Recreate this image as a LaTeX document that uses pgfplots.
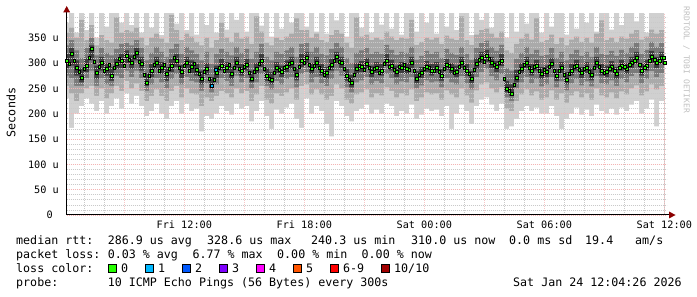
\documentclass[border=0pt]{standalone}
\usepackage{pgfplots}
\pgfplotsset{compat=1.18}
\usepackage{pgfplotstable}
\usepackage{fontspec}
\setmainfont{DejaVu Sans Mono}
\setmonofont{DejaVu Sans Mono}
\definecolor{smokeA}{HTML}{D0D0D0}
\definecolor{smokeB}{HTML}{AAAAAA}
\definecolor{smokeC}{HTML}{7A7A7A}
\definecolor{smokeD}{HTML}{3E3E3E}
\definecolor{mgrid}{HTML}{F4B4B4}
\definecolor{mxgrid}{HTML}{F7C6C6}
\definecolor{mingrid}{HTML}{CACACA}
\definecolor{arrowred}{HTML}{8B0000}
\definecolor{wm}{HTML}{C0C0C0}
\definecolor{lossA}{HTML}{26FF00}
\definecolor{lossB}{HTML}{00B8FF}
\definecolor{lossC}{HTML}{0059FF}
\definecolor{lossD}{HTML}{7E00FF}
\definecolor{lossE}{HTML}{FF00FF}
\definecolor{lossF}{HTML}{FF5500}
\definecolor{lossG}{HTML}{FF0000}
\definecolor{lossH}{HTML}{A10000}
\newcommand\legfont{\fontsize{11.7}{14}\selectfont}
\pgfplotstableread{
x l1 l2 l3 l4 m h4 h3 h2 h1 m2
6.12 230 255 275 290 305 318 335 360 380 298
6.37 172 240 270 295 318 330 345 370 400 305
6.62 200 225 255 275 290 305 325 350 360 283
6.87 215 240 255 262 272 290 310 385 400 288
7.12 230 250 270 282 295 310 330 345 365 310
7.37 220 255 285 305 328 335 350 375 400 302
7.62 205 235 255 268 280 295 315 335 350 292
7.87 225 250 270 285 300 312 330 355 400 285
8.12 200 230 258 275 288 300 320 345 372 296
8.37 215 240 255 265 275 292 315 340 400 290
8.62 230 255 275 288 298 310 328 390 400 308
8.87 210 245 270 290 305 318 338 360 380 295
9.12 240 265 285 300 315 325 340 365 400 306
9.37 220 250 272 288 300 315 335 362 375 312
9.62 235 260 285 305 320 330 345 370 400 303
9.87 215 245 270 285 298 312 330 350 360 276
10.12 195 225 245 255 262 280 305 335 400 275
10.37 205 235 258 272 285 298 320 350 370 296
10.62 220 248 270 288 300 312 332 358 400 284
10.87 200 235 262 278 290 302 322 348 355 296
11.12 190 225 250 265 278 292 312 340 400 288
11.37 215 245 268 282 295 308 328 395 400 310
11.62 225 255 278 292 305 318 338 365 378 290
11.87 200 232 258 270 282 296 318 345 400 294
12.12 220 250 272 288 300 312 332 358 365 285
12.37 205 240 265 280 292 305 325 352 400 298
12.62 210 238 262 275 286 298 318 342 356 278
12.87 165 215 245 258 270 285 305 335 400 282
13.12 195 232 260 276 288 300 322 350 375 270
13.37 190 225 242 250 255 272 298 330 400 268
13.62 200 235 258 270 280 295 318 345 360 290
13.87 215 245 270 285 295 308 328 380 400 284
14.12 205 240 265 280 290 302 322 350 366 296
14.37 198 232 255 268 278 292 315 342 400 290
14.62 220 250 275 290 300 312 332 360 385 288
14.87 210 240 262 275 285 298 320 348 400 292
15.12 215 245 270 285 296 308 328 352 362 280
15.37 185 225 250 262 270 285 308 338 400 282
15.62 205 238 262 278 288 300 322 392 400 298
15.87 225 255 278 292 305 318 338 362 374 288
16.12 195 228 255 265 275 290 312 340 400 270
16.37 170 220 248 258 268 282 305 335 352 280
16.62 208 240 265 280 290 302 322 350 400 286
16.87 200 235 258 272 282 295 318 345 368 290
17.12 212 242 268 282 292 305 325 352 400 298
17.37 220 250 272 288 300 312 332 358 380 288
17.62 190 228 252 266 276 290 312 388 400 292
17.87 172 255 278 292 305 318 338 365 400 300
18.12 230 258 282 298 310 322 340 365 372 296
18.37 200 238 262 278 288 300 322 350 400 294
18.62 215 248 272 288 300 312 332 358 362 290
18.87 205 238 260 275 285 298 318 345 400 276
19.12 180 228 255 268 280 292 315 342 358 290
19.37 155 235 268 285 296 308 328 355 400 305
19.62 225 258 285 300 312 322 340 365 384 302
19.87 215 250 275 290 300 312 332 358 400 288
20.12 195 228 252 265 275 288 310 340 352 268
20.37 185 220 242 252 262 276 300 330 400 276
20.62 205 238 262 278 288 300 320 390 400 294
20.87 210 242 266 282 292 304 325 352 370 286
21.12 218 248 272 288 298 310 330 356 400 290
21.37 200 232 258 272 282 295 318 345 360 288
21.62 208 240 265 280 290 302 322 350 400 280
21.87 200 236 260 275 285 298 318 346 376 298
22.12 220 252 278 294 305 318 336 362 400 292
22.37 215 245 270 285 295 306 326 352 368 286
22.62 195 232 258 272 282 295 316 345 400 292
22.87 205 240 264 280 290 302 322 350 356 296
23.12 200 236 262 278 288 300 320 348 400 286
23.37 218 248 272 290 300 312 332 385 400 285
23.62 190 225 250 260 270 284 306 336 362 276
23.87 198 232 256 270 280 292 314 342 400 288
24.12 210 242 266 282 292 304 324 350 380 290
24.37 205 238 262 275 285 298 318 346 400 284
24.62 208 240 264 280 290 302 322 350 358 282
24.87 195 228 252 265 275 288 310 338 400 288
25.12 215 246 270 286 296 308 328 354 372 294
25.37 170 238 262 278 288 300 320 348 400 280
25.62 200 232 258 272 282 295 316 345 365 292
25.87 218 250 274 290 300 312 332 392 400 290
26.12 205 236 260 275 285 298 318 345 400 278
26.37 180 222 248 260 270 284 306 336 355 286
26.62 215 246 272 288 298 310 330 356 400 306
26.87 228 258 282 298 310 322 340 365 385 302
27.12 232 262 288 302 315 326 344 368 400 308
27.37 218 250 274 290 300 312 332 358 370 296
27.62 205 242 266 282 292 304 324 350 400 300
27.87 220 252 278 294 305 318 336 362 400 270
28.12 170 210 232 242 250 265 290 325 350 246
28.37 175 205 225 235 240 258 285 320 400 258
28.62 190 225 250 262 272 286 308 338 362 282
28.87 205 238 262 278 288 300 320 348 400 296
29.12 215 248 272 290 300 312 332 358 378 290
29.37 205 236 260 275 285 298 318 346 400 292
29.62 212 244 268 285 295 306 326 388 400 284
29.87 200 228 254 268 278 292 314 342 360 286
30.12 200 232 258 272 282 295 316 345 400 292
30.37 215 246 272 288 298 310 330 356 372 284
30.62 195 228 252 265 275 288 310 338 400 284
30.87 170 240 264 280 290 302 322 350 400 276
31.12 190 222 246 258 268 282 305 335 356 278
31.37 200 236 260 275 285 298 318 346 400 292
31.62 212 244 268 285 295 306 326 352 368 286
31.87 198 232 256 270 280 292 314 342 400 288
32.12 208 240 264 280 290 302 322 350 380 282
32.37 195 228 254 266 276 290 312 340 400 290
32.62 218 250 274 290 300 312 332 358 362 292
32.87 205 236 260 275 285 298 318 384 400 280
33.12 200 232 258 272 282 295 316 345 400 288
33.37 210 242 266 282 292 304 324 350 366 284
33.62 198 230 255 268 278 292 314 342 400 290
33.87 212 244 268 285 295 306 326 352 375 292
34.12 205 238 262 278 288 300 320 348 400 296
34.37 218 250 274 290 300 312 332 358 400 305
34.62 225 256 280 298 310 322 340 365 382 296
34.87 200 236 260 275 285 298 318 346 400 290
35.12 210 244 268 285 295 306 326 352 360 304
35.37 228 258 284 300 312 324 342 366 400 306
35.62 175 248 272 290 300 312 332 358 400 304
35.87 225 255 280 298 310 322 340 365 400 300
35.99 225 255 280 298 310 322 340 365 400 nan
}\smoke
\begin{document}
\begin{tikzpicture}
\begin{axis}[
  at={(66.7bp,82bp)}, anchor=south west,
  scale only axis, width=600bp, height=201bp,
  xmin=6.12, xmax=36.12, ymin=0, ymax=396.8,
  axis x line*=bottom, axis y line*=left,
  axis line style={black, line width=1bp},
  axis on top,
  xtick={9,12,15,18,21,24,27,30,33,36},
  xticklabels={,Fri 12:00,,Fri 18:00,,Sat 00:00,,Sat 06:00,,Sat 12:00},
  minor xtick={7,8,10,11,13,14,16,17,19,20,22,23,25,26,28,29,31,32,34,35},
  ytick={0,50,100,150,200,250,300,350},
  yticklabels={0~~,50~u,100~u,150~u,200~u,250~u,300~u,350~u},
  minor ytick={10,20,30,40,60,70,80,90,110,120,130,140,160,170,180,190,210,220,230,240,260,270,280,290,310,320,330,340,360,370,380,390},
  grid=both,
  major grid style={mgrid, line width=0.7bp, dash pattern=on 1bp off 1bp},
  major x grid style={mxgrid, line width=0.7bp, dash pattern=on 1bp off 1bp},
  minor grid style={mingrid, line width=0.7bp, dash pattern=on 1bp off 1bp},
  major tick length=0pt, minor tick length=0pt,
  tick label style={font=\fontsize{10.24}{12}\selectfont},
  xticklabel style={anchor=north, inner sep=0pt, yshift=-5.5bp},
  yticklabel style={anchor=east, inner sep=0pt, xshift=-7.7bp},
]
\addplot[fill=smokeA, draw=none, const plot mark mid] table[x=x,y=h1]{\smoke} \closedcycle;
\addplot[fill=smokeB, draw=none, const plot mark mid] table[x=x,y=h2]{\smoke} \closedcycle;
\addplot[fill=smokeC, draw=none, const plot mark mid] table[x=x,y=h3]{\smoke} \closedcycle;
\addplot[fill=smokeD, draw=none, const plot mark mid] table[x=x,y=h4]{\smoke} \closedcycle;
\addplot[fill=smokeC, draw=none, const plot mark mid] table[x=x,y=l4]{\smoke} \closedcycle;
\addplot[fill=smokeB, draw=none, const plot mark mid] table[x=x,y=l3]{\smoke} \closedcycle;
\addplot[fill=smokeA, draw=none, const plot mark mid] table[x=x,y=l2]{\smoke} \closedcycle;
\addplot[fill=white, draw=none, const plot mark mid] table[x=x,y=l1]{\smoke} \closedcycle;
\addplot[only marks, mark=square*, mark size=1.5, mark options={fill=lossA, draw=none}] table[x=x,y=m]{\smoke};
\addplot[only marks, mark=square*, mark size=1.5, mark options={fill=lossA, draw=none}] table[x expr=\thisrow{x}+0.125,y=m2]{\smoke};
\addplot[only marks, mark=square*, mark size=1.5, mark options={fill=lossB, draw=none}] coordinates {(13.37,255) (13.55,286)};
\end{axis}
% axis arrows
\draw[black, line width=1bp] (666.7bp,82bp) -- (669bp,82bp);
\fill[arrowred] (669bp,78.5bp) -- (675.5bp,82bp) -- (669bp,85.5bp) -- cycle;
\draw[black, line width=1bp] (66.7bp,283bp) -- (66.7bp,285bp);
\fill[arrowred] (63.2bp,284.5bp) -- (66.7bp,291bp) -- (70.2bp,284.5bp) -- cycle;
% unit label and watermark
\node[rotate=90, font=\legfont, inner sep=0pt] at (11bp,184.5bp) {Seconds};
\node[rotate=-90, font=\fontsize{8.04}{9}\selectfont, text=wm, inner sep=0pt] at (686.5bp,237bp) {RRDTOOL~/~TOBI~OETIKER};
% legend lines
\begin{scope}[every node/.style={anchor=base west, inner sep=0pt, font=\legfont}]
\node at (16bp,52.5bp) {median~rtt:};
\node at (107.6bp,52.5bp) {286.9~us~avg};
\node at (207bp,52.5bp) {328.6~us~max};
\node at (311bp,52.5bp) {240.3~us~min};
\node at (411bp,52.5bp) {310.0~us~now};
\node at (509bp,52.5bp) {0.0~ms~sd};
\node at (585bp,52.5bp) {19.4};
\node at (635bp,52.5bp) {am/s};
\node at (16bp,38.5bp) {packet~loss:};
\node at (107.6bp,38.5bp) {0.03~\%~avg};
\node at (192.3bp,38.5bp) {6.77~\%~max};
\node at (277bp,38.5bp) {0.00~\%~min};
\node at (361.5bp,38.5bp) {0.00~\%~now};
\node at (16bp,24.5bp) {loss~color:};
\node at (121bp,24.5bp) {0};
\node at (158bp,24.5bp) {1};
\node at (195bp,24.5bp) {2};
\node at (232bp,24.5bp) {3};
\node at (269bp,24.5bp) {4};
\node at (306bp,24.5bp) {5};
\node at (343bp,24.5bp) {6-9};
\node at (394bp,24.5bp) {10/10};
\node at (16bp,11bp) {probe:};
\node at (107.6bp,11bp) {10~ICMP~Echo~Pings~(56~Bytes)~every~300s};
\node at (513bp,11bp) {Sat~Jan~24~12:04:26~2026};
\end{scope}
\foreach \xx/\cc in {108/lossA,145.5/lossB,182.5/lossC,219.5/lossD,256.5/lossE,293.5/lossF,330.5/lossG,381.5/lossH}{
  \filldraw[fill=\cc, draw=black, line width=0.8bp] (\xx bp,25bp) rectangle ++(8bp,8bp);
}
\pgfresetboundingbox
\path[use as bounding box] (0,0) rectangle (697bp,297bp);
\end{tikzpicture}
\end{document}
